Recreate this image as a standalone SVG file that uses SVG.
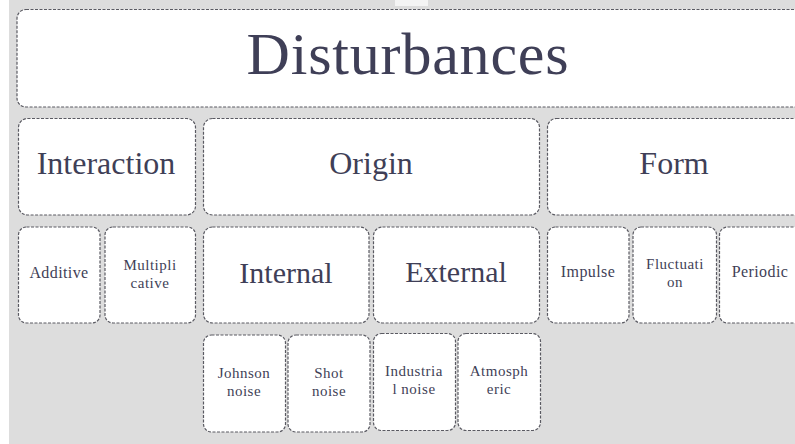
<svg xmlns="http://www.w3.org/2000/svg" width="795" height="444" viewBox="0 0 795 444">
<style>
.bx{fill:#ffffff;stroke:#5a5a62;stroke-width:1.2;stroke-dasharray:3 1.5}
text{font-family:"Liberation Serif","DejaVu Serif",serif;fill:#3f3f57;text-anchor:middle}
.t0{font-size:60px;letter-spacing:0.8px}
.t1{font-size:32px}
.t2{font-size:30px}
.t3{font-size:16px;letter-spacing:0.4px}
.t4{font-size:15px;letter-spacing:0.5px}
</style>
<rect x="0" y="0" width="795" height="444" fill="#ffffff"/>
<rect x="9" y="0" width="786" height="444" fill="#dddddd"/>
<rect x="395" y="0" width="33" height="6" fill="#f4f4f4"/>
<g id="connectors"/>
<g id="disturbances"><rect class="bx" x="17" y="9.5" width="800" height="97.5" rx="9"/><text class="t0" x="408" y="74">Disturbances</text></g>
<g id="interaction"><rect class="bx" x="18.5" y="118.5" width="177" height="96.5" rx="9"/><text class="t1" x="106" y="174">Interaction</text></g>
<g id="origin"><rect class="bx" x="203.5" y="118.5" width="336" height="96.5" rx="9"/><text class="t1" x="371" y="174">Origin</text></g>
<g id="form"><rect class="bx" x="547.5" y="118.5" width="270" height="96.5" rx="9"/><text class="t1" x="674" y="174">Form</text></g>
<g id="additive"><rect class="bx" x="18.5" y="227" width="81.5" height="96" rx="8"/><text class="t3" x="59" y="278">Additive</text></g>
<g id="multiplicative"><rect class="bx" x="105" y="227" width="90.5" height="96" rx="8"/><text class="t4" x="150" y="270">Multipli</text><text class="t4" x="150" y="288">cative</text></g>
<g id="internal"><rect class="bx" x="203.5" y="227" width="165.5" height="96" rx="9"/><text class="t2" x="286" y="283">Internal</text></g>
<g id="external"><rect class="bx" x="373.5" y="227" width="166" height="96" rx="9"/><text class="t2" x="456" y="282">External</text></g>
<g id="impulse"><rect class="bx" x="547.5" y="227" width="81.5" height="96" rx="8"/><text class="t3" x="588" y="277">Impulse</text></g>
<g id="fluctuation"><rect class="bx" x="633" y="227" width="83.5" height="96" rx="8"/><text class="t4" x="675" y="269">Fluctuati</text><text class="t4" x="675" y="287">on</text></g>
<g id="periodic"><rect class="bx" x="719.5" y="227" width="100" height="96" rx="8"/><text class="t3" x="760" y="277">Periodic</text></g>
<g id="johnson"><rect class="bx" x="203.5" y="335" width="82" height="97" rx="8"/><text class="t4" x="244" y="378">Johnson</text><text class="t4" x="244" y="396">noise</text></g>
<g id="shot"><rect class="bx" x="288" y="335" width="82" height="97" rx="8"/><text class="t4" x="329" y="378">Shot</text><text class="t4" x="329" y="396">noise</text></g>
<g id="industrial"><rect class="bx" x="373.5" y="333.5" width="82" height="97" rx="8"/><text class="t4" x="414" y="376">Industria</text><text class="t4" x="414" y="394">l noise</text></g>
<g id="atmospheric"><rect class="bx" x="458" y="333.5" width="82.5" height="97" rx="8"/><text class="t4" x="499" y="376">Atmosph</text><text class="t4" x="499" y="394">eric</text></g>
</svg>
